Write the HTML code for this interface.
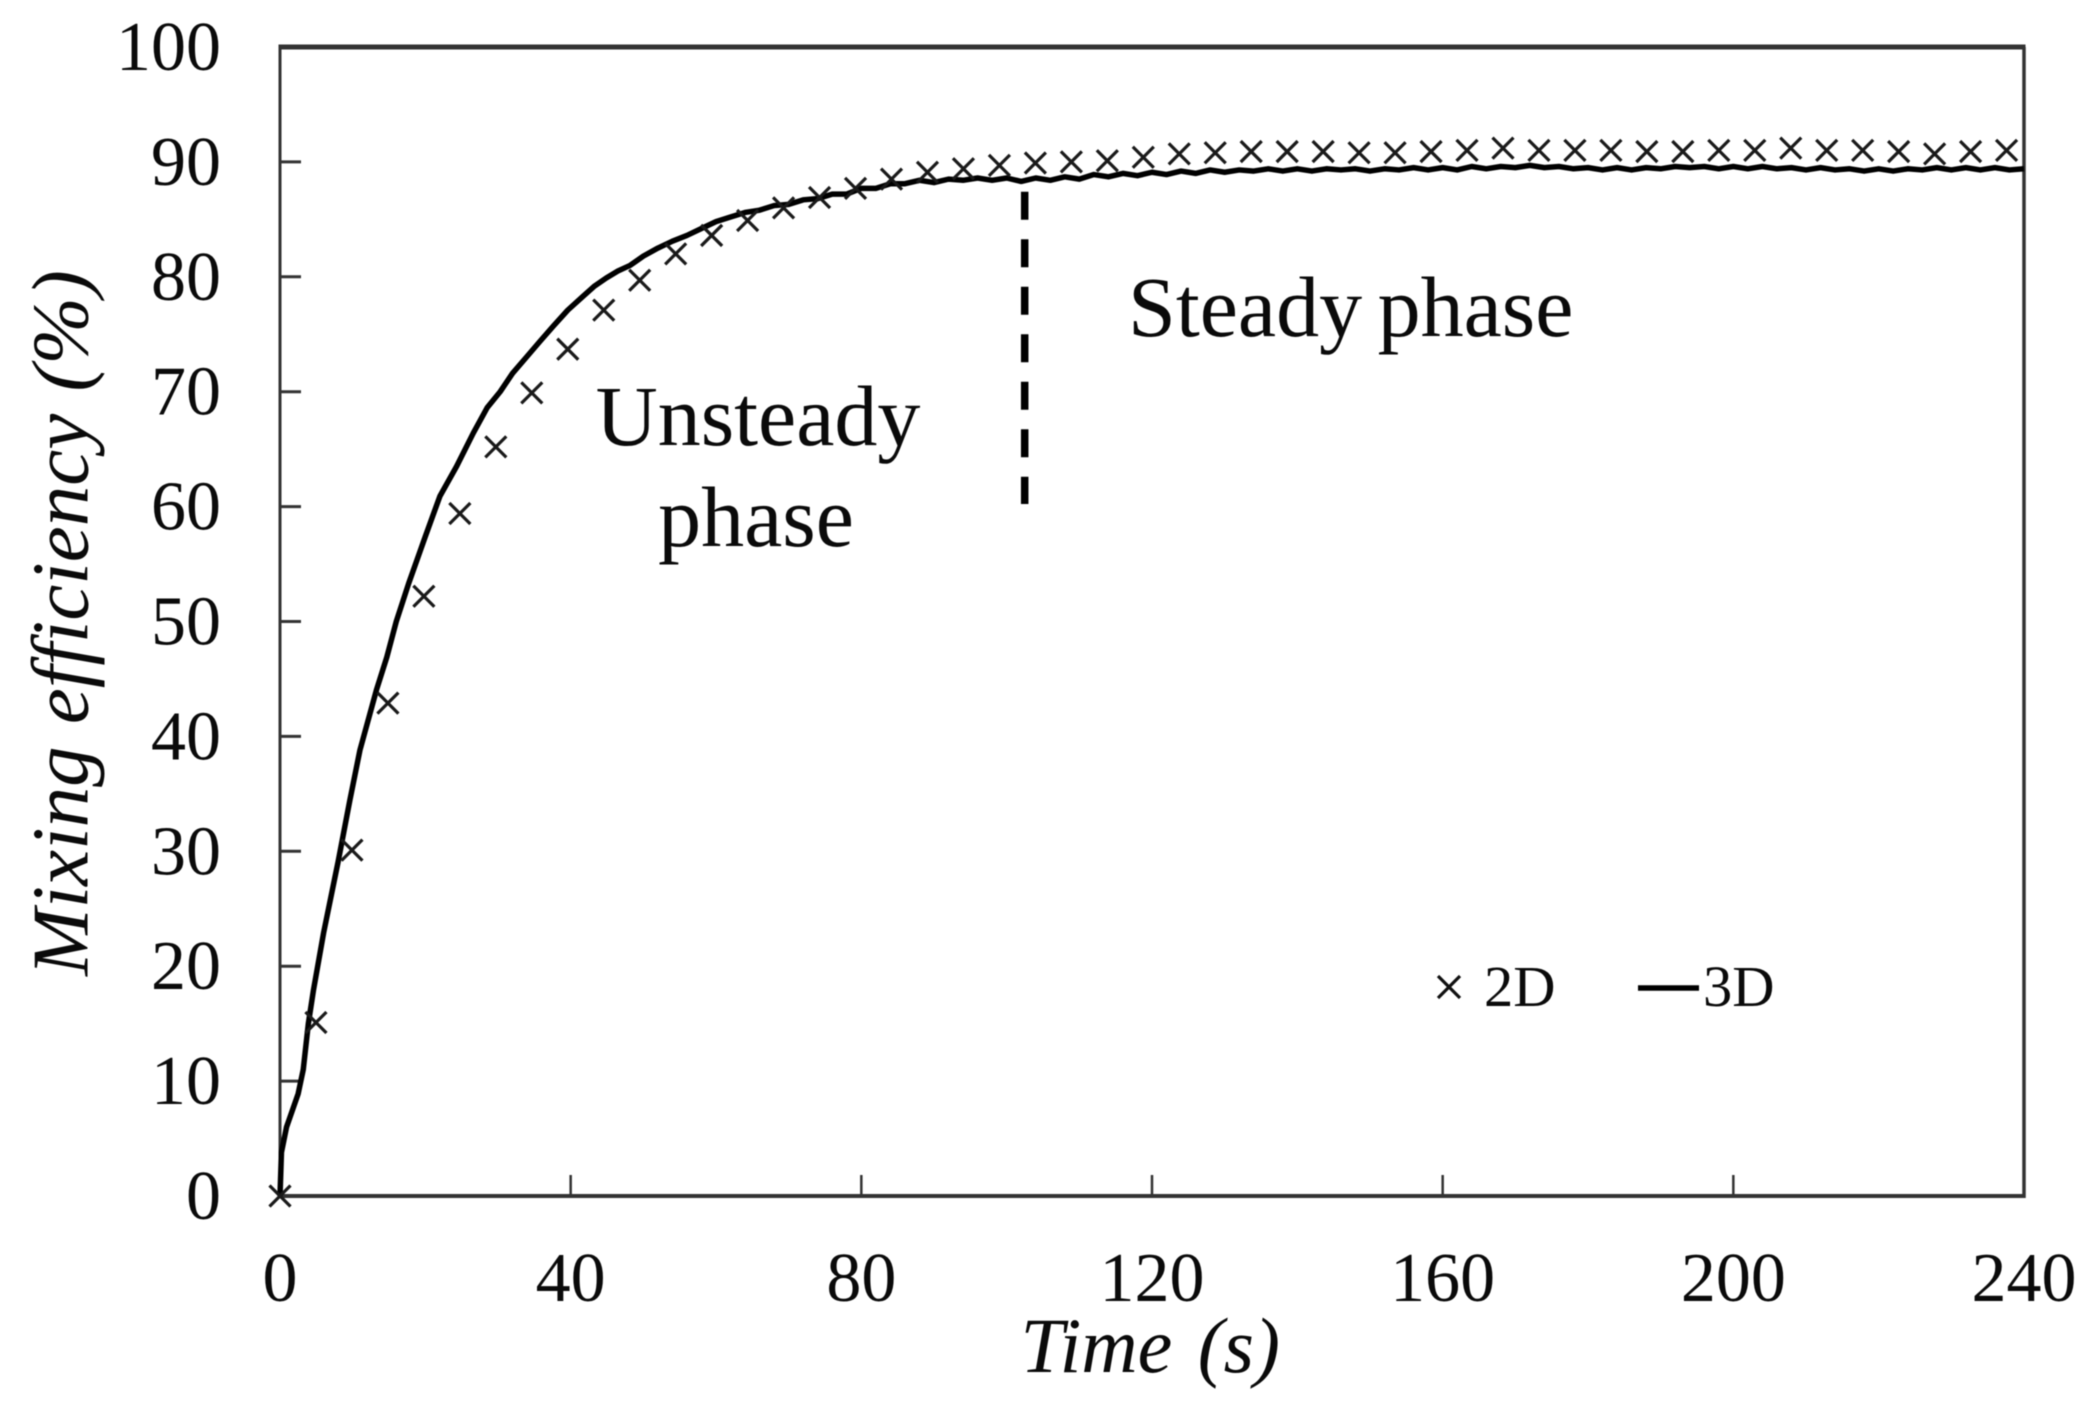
<!DOCTYPE html>
<html lang="en">
<head>
<meta charset="utf-8">
<title>Mixing efficiency vs time</title>
<style>
html,body{margin:0;padding:0;background:#fff;}
svg{display:block;filter:blur(0.6px);}
text{font-family:"Liberation Serif",serif;fill:#0a0a0a;font-variant-ligatures:none;}
</style>
</head>
<body>
<svg id="chart" xmlns="http://www.w3.org/2000/svg" width="2090" height="1416" viewBox="0 0 2090 1416">
  <rect x="0" y="0" width="2090" height="1416" fill="#fff"/>
  <g id="axes"></g>
  <g id="series3d"></g>
  <g id="series2d"></g>
  <line x1="1024.7" y1="191.7" x2="1024.7" y2="504" stroke="#000" stroke-width="7.5" stroke-dasharray="28 19.5"/>
  <text x="758" y="445" font-size="86" text-anchor="middle">Unsteady</text>
  <text x="756" y="546" font-size="86" text-anchor="middle">phase</text>
  <text x="1128" y="336" font-size="86" word-spacing="-6">Steady phase</text>
  <text x="1020.5" y="1372" font-size="78" font-style="italic" word-spacing="6">Time (s)</text>
  <text transform="translate(87.5,623) rotate(-90)" font-size="81" font-style="italic" text-anchor="middle" word-spacing="2">Mixing efficiency (%)</text>
  <g>
    <g>
      <path d="M1438 976L1460 998M1460 976L1438 998" stroke="#111" stroke-width="3.2" fill="none"/>
      <text x="1484" y="1006" font-size="58.5">2D</text>
    </g>
    <g>
      <line x1="1638" y1="988" x2="1699" y2="988" stroke="#000" stroke-width="5.5"/>
      <text x="1703" y="1006" font-size="58.5">3D</text>
    </g>
  </g>
</svg>
<script>
const xTickLabels = [0, 40, 80, 120, 160, 200, 240];
const yTickLabels = [0, 10, 20, 30, 40, 50, 60, 70, 80, 90, 100];

const times2D = [0, 4.95, 9.9, 14.85, 19.8, 24.75, 29.7, 34.65, 39.6, 44.55, 49.5, 54.45, 59.4, 64.35, 69.3, 74.25, 79.2, 84.15, 89.1, 94.05, 99, 103.95, 108.9, 113.85, 118.8, 123.75, 128.7, 133.65, 138.6, 143.55, 148.5, 153.45, 158.4, 163.35, 168.3, 173.25, 178.2, 183.15, 188.1, 193.05, 198, 202.95, 207.9, 212.85, 217.8, 222.75, 227.7, 232.65, 237.6];
const values2D = [0, 15.1, 30.1, 42.9, 52.2, 59.4, 65.2, 69.9, 73.7, 77.1, 79.7, 82, 83.6, 84.9, 86, 86.9, 87.7, 88.5, 89.1, 89.4, 89.7, 89.9, 90, 90.1, 90.4, 90.7, 90.8, 90.9, 90.9, 90.9, 90.8, 90.8, 90.9, 91, 91.2, 91, 91, 91, 90.9, 90.9, 91, 91, 91.2, 91, 91, 90.9, 90.7, 90.9, 91];

const times3D = [0, 0.2, 0.9, 2.5, 3.2, 3.9, 4.6, 6, 8, 9.6, 11, 13.3, 14.7, 16, 17.7, 20, 22, 24.3, 26.6, 28.5, 30.3, 32, 33.9, 35.8, 37.6, 39.6, 41.7, 43.3, 44.9, 46.5, 48.2, 50, 52, 54, 56, 58, 60, 62, 64, 66, 68, 70, 72, 74, 76, 78, 80, 82, 84, 86, 88, 90, 92, 94, 96, 98, 100, 102, 104, 106, 108, 110, 112, 114, 116, 118, 120, 122, 124, 126, 128, 130, 132, 134, 136, 138, 140, 142, 144, 146, 148, 150, 152, 154, 156, 158, 160, 162, 164, 166, 168, 170, 172, 174, 176, 178, 180, 182, 184, 186, 188, 190, 192, 194, 196, 198, 200, 202, 204, 206, 208, 210, 212, 214, 216, 218, 220, 222, 224, 226, 228, 230, 232, 234, 236, 238, 240];
const values3D = [0, 3.8, 6, 8.9, 11, 15, 17.9, 22.9, 29.1, 34.4, 38.8, 44.1, 46.9, 50, 53.3, 57.4, 60.9, 63.5, 66.4, 68.6, 70, 71.6, 73, 74.4, 75.7, 77.1, 78.3, 79.2, 79.9, 80.5, 81, 81.8, 82.5, 83.1, 83.6, 84.2, 84.8, 85.2, 85.6, 85.8, 86.2, 86.3, 86.7, 86.8, 87.2, 87.2, 87.7, 87.7, 88.1, 88.1, 88.4, 88.2, 88.5, 88.4, 88.6, 88.4, 88.6, 88.3, 88.6, 88.4, 88.7, 88.5, 88.9, 88.7, 89, 88.8, 89.1, 88.9, 89.2, 89, 89.3, 89.1, 89.3, 89.2, 89.4, 89.2, 89.4, 89.2, 89.4, 89.3, 89.4, 89.2, 89.4, 89.3, 89.5, 89.3, 89.5, 89.3, 89.6, 89.4, 89.6, 89.5, 89.7, 89.5, 89.6, 89.4, 89.5, 89.3, 89.5, 89.3, 89.5, 89.4, 89.6, 89.5, 89.6, 89.4, 89.6, 89.4, 89.6, 89.4, 89.5, 89.3, 89.5, 89.3, 89.4, 89.2, 89.4, 89.2, 89.4, 89.3, 89.5, 89.3, 89.5, 89.3, 89.5, 89.3, 89.4];

const NS = 'http://www.w3.org/2000/svg';
const plotLeft = 280, plotRight = 2024, plotTop = 47, plotBottom = 1196;
function xScale(t) { return plotLeft + (t / 240) * (plotRight - plotLeft); }
function yScale(v) { return plotBottom - (v / 100) * (plotBottom - plotTop); }

function make(tag, attrs) {
  const el = document.createElementNS(NS, tag);
  for (const k in attrs) el.setAttribute(k, attrs[k]);
  return el;
}

const axes = document.getElementById('axes');
const frameColor = '#333';

const topLine = make('line', {x1: plotLeft - 1.5, x2: plotRight + 1.5, y1: plotTop, y2: plotTop, stroke: frameColor, 'stroke-width': 5});


axes.appendChild(topLine);

const rightLine = make('line', {x1: plotRight, x2: plotRight, y1: plotTop, y2: plotBottom + 2, stroke: frameColor, 'stroke-width': 3.5});


axes.appendChild(rightLine);

const xAxisLine = make('line', {x1: plotLeft, x2: plotRight, y1: plotBottom, y2: plotBottom, stroke: frameColor, 'stroke-width': 4});


axes.appendChild(xAxisLine);

const yAxisLine = make('line', {x1: plotLeft, x2: plotLeft, y1: plotTop, y2: plotBottom, stroke: frameColor, 'stroke-width': 3});


axes.appendChild(yAxisLine);

xTickLabels.forEach(function (v) {
  const x = xScale(v);
  if (v > 0 && v < 240) {
    const tick = make('line', {x1: x, x2: x, y1: plotBottom - 21, y2: plotBottom, stroke: frameColor, 'stroke-width': 2.5});
    
    
    axes.appendChild(tick);
  }
  const label = make('text', {x: x, y: 1301, 'font-size': 70, 'text-anchor': 'middle'});
  
  
  label.textContent = v;
  axes.appendChild(label);
});

yTickLabels.forEach(function (v) {
  const y = yScale(v);
  if (v > 0 && v < 100) {
    const tick = make('line', {x1: plotLeft, x2: plotLeft + 21, y1: y, y2: y, stroke: frameColor, 'stroke-width': 3});
    
    
    axes.appendChild(tick);
  }
  const label = make('text', {x: 221, y: y + 23, 'font-size': 70, 'text-anchor': 'end'});
  
  
  label.textContent = v;
  axes.appendChild(label);
});

const line3d = make('path', {
  d: times3D.map(function (t, i) {
    return (i ? 'L' : 'M') + xScale(t).toFixed(2) + ' ' + yScale(values3D[i]).toFixed(2);
  }).join(''),
  fill: 'none', stroke: '#000', 'stroke-width': 5.5, 'stroke-linejoin': 'round'
});


document.getElementById('series3d').appendChild(line3d);

const g2d = document.getElementById('series2d');
const half = 10.5;
times2D.forEach(function (t, i) {
  const cx = xScale(t), cy = yScale(values2D[i]);
  const m = make('path', {
    d: 'M' + (cx - half) + ' ' + (cy - half) + 'L' + (cx + half) + ' ' + (cy + half) + 'M' + (cx + half) + ' ' + (cy - half) + 'L' + (cx - half) + ' ' + (cy + half),
    fill: 'none', stroke: '#1a1a1a', 'stroke-width': 3.2
  });
  
  
  g2d.appendChild(m);
});
</script>
</body>
</html>
